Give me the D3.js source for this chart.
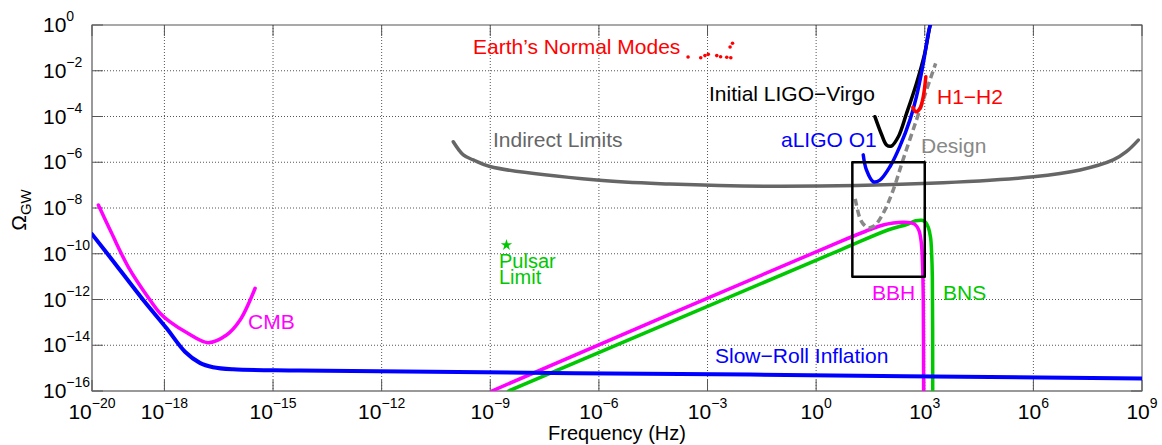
<!DOCTYPE html>
<html lang="en">
<head>
<meta charset="UTF-8">
<title>Stochastic GW background limits</title>
<script src="https://d3js.org/d3.v7.min.js"></script>
<style>
  body { margin: 0; background: #fff; }
  svg text { font-family: 'Liberation Sans', Arial, sans-serif; }
</style>
</head>
<body>
<svg id="chart" width="1162" height="445"></svg>
<script>
// ---- data (frequency in Hz, Omega_GW) ----
const xTicks = [1e-20, 1e-18, 1e-15, 1e-12, 1e-9, 1e-6, 1e-3, 1e0, 1e3, 1e6, 1e9];
const xTickExp = ["−20", "−18", "−15", "−12", "−9", "−6", "−3", "0", "3", "6", "9"];
const yTicks = [1e0, 1e-2, 1e-4, 1e-6, 1e-8, 1e-10, 1e-12, 1e-14, 1e-16];
const yTickExp = ["0", "−2", "−4", "−6", "−8", "−10", "−12", "−14", "−16"];

const slowRollFreq  = [1e-20, 3.2e-20, 2.6e-19, 1.15e-18, 3.7e-18, 9.5e-18, 2.2e-17, 7.8e-17, 5.5e-15, 1.5e-2, 1e9];
const slowRollOmega = [7.2e-10, 6.9e-11, 9.5e-13, 5.5e-14, 5.2e-15, 1.7e-15, 1.1e-15, 8.9e-16, 7.8e-16, 5.2e-16, 3.5e-16];

const cmbFreq  = [1.5e-20, 3.5e-20, 1e-19, 4e-19, 7.6e-19, 1.4e-18, 4.2e-18, 1.6e-17, 5.2e-17, 1.23e-16, 3.2e-16];
const cmbOmega = [1.35e-8, 7.8e-10, 2.7e-11, 9.5e-13, 2.5e-13, 1.07e-13, 3.5e-14, 1.3e-14, 2.8e-14, 1.26e-13, 3.1e-12];

const indirectFreq  = [9.5e-11, 1.8e-10, 3.4e-10, 9.8e-10, 8.7e-7, 9.1e-5, 0.1, 1380, 1e6, 1.95e7, 1.6e8, 3.7e8, 7.9e8];
const indirectOmega = [7.9e-6, 2.1e-6, 1.26e-6, 6.5e-7, 1.66e-7, 1.12e-7, 8.9e-8, 1.2e-7, 2.3e-7, 4.6e-7, 1.26e-6, 2.9e-6, 9.3e-6];

const bbhFreq  = [1.1e-9, 4.6, 38, 71, 135, 250, 400, 540, 690, 800, 870, 910, 930];
const bbhOmega = [1e-16, 3.4e-10, 1.3e-9, 1.8e-9, 2.2e-9, 2.4e-9, 2.3e-9, 1.9e-9, 1.05e-9, 3.2e-10, 3.2e-11, 1e-12, 1e-16];

const bnsFreq  = [3.2e-9, 4.6, 100, 316, 560, 830, 1050, 1260, 1450, 1550, 1620, 1660];
const bnsOmega = [1e-16, 1.45e-10, 1.12e-9, 1.9e-9, 2.75e-9, 2.9e-9, 2.4e-9, 1.4e-9, 5e-10, 1e-10, 1e-11, 1e-16];

const initialFreq  = [42, 65, 89, 120, 186, 316, 590, 1000, 1380, 1480];
const initialOmega = [9.8e-5, 1.55e-5, 5.6e-6, 5.1e-6, 1.3e-5, 1.4e-4, 2.8e-3, 5.8e-2, 0.85, 1.26];

const o1Freq  = [20, 24.5, 38, 57.5, 110, 204, 390, 590, 910, 1380, 1600];
const o1Omega = [2.1e-6, 4.6e-7, 1.4e-7, 1.66e-7, 6.5e-7, 4.8e-6, 7.1e-5, 7.4e-4, 2.1e-2, 0.85, 1.4];

const designFreq  = [12, 15.8, 20, 27.5, 38, 47, 79, 135, 250, 590, 1120, 2000];
const designOmega = [2.5e-8, 4e-9, 2e-9, 1.38e-9, 1.58e-9, 2.1e-9, 8.1e-9, 6.2e-8, 1.26e-6, 7.1e-5, 1.45e-3, 2.1e-2];

const h1h2Freq  = [1070, 910, 740, 575, 470];
const h1h2Omega = [5.5e-3, 7.4e-4, 2.3e-4, 1.6e-4, 2.5e-4];

const earthFreq  = [2.9e-4, 6.5e-4, 8.5e-4, 1.05e-3, 1.8e-3, 2.3e-3, 3.4e-3, 4.4e-3, 4.2e-3, 4.9e-3];
const earthOmega = [4e-2, 3.7e-2, 4.6e-2, 5.2e-2, 4.6e-2, 4.1e-2, 3.9e-2, 3.7e-2, 0.11, 0.16];

const pulsarFreq = 2.8e-9, pulsarOmega = 2.4e-10;

const boxFreq  = [10, 1000];
const boxOmega = [1e-11, 1e-6];

// ---- layout ----
const svg = d3.select("#chart");
const width = 1162, height = 445;
const margin = { top: 25, right: 20, bottom: 54, left: 92 };
const x0 = margin.left, x1 = width - margin.right;
const y0 = margin.top, y1 = height - margin.bottom;

const x = d3.scaleLog().domain([1e-20, 1e9]).range([x0, x1]);
const y = d3.scaleLog().domain([1e-16, 1]).range([y1, y0]);

svg.append("defs").append("clipPath").attr("id", "plot-clip")
  .append("rect").attr("x", x0).attr("y", y0).attr("width", x1 - x0).attr("height", y1 - y0);

// grid (dotted)
const grid = svg.append("g").attr("stroke", "#555").attr("stroke-width", 1).attr("stroke-dasharray", "1,2");
xTicks.slice(1, -1).forEach(t => {
  grid.append("line").attr("x1", x(t)).attr("x2", x(t)).attr("y1", y0).attr("y2", y1);
});
yTicks.slice(1, -1).forEach(t => {
  grid.append("line").attr("x1", x0).attr("x2", x1).attr("y1", y(t)).attr("y2", y(t));
});

// frame + inward ticks
const tickLen = 11;
const frame = svg.append("g").attr("stroke", "#555").attr("stroke-width", 1);
frame.append("rect").attr("x", x0).attr("y", y0).attr("width", x1 - x0).attr("height", y1 - y0)
  .attr("fill", "none");
frame.append("line").attr("x1", x0).attr("x2", x0).attr("y1", y0).attr("y2", y1)
  .attr("stroke", "#999").attr("stroke-width", 2);
frame.append("line").attr("x1", x0).attr("x2", x1).attr("y1", y1).attr("y2", y1)
  .attr("stroke", "#999").attr("stroke-width", 2);
xTicks.forEach(t => {
  frame.append("line").attr("x1", x(t)).attr("x2", x(t)).attr("y1", y1).attr("y2", y1 - tickLen);
  frame.append("line").attr("x1", x(t)).attr("x2", x(t)).attr("y1", y0).attr("y2", y0 + tickLen);
});
yTicks.forEach(t => {
  frame.append("line").attr("x1", x0).attr("x2", x0 + tickLen).attr("y1", y(t)).attr("y2", y(t));
  frame.append("line").attr("x1", x1).attr("x2", x1 - tickLen).attr("y1", y(t)).attr("y2", y(t));
});

// tick labels with superscripts
xTicks.forEach((t, i) => {
  const tx = svg.append("text").attr("x", x(t)).attr("y", y1 + 28)
    .attr("text-anchor", "middle").attr("font-size", 21).attr("fill", "#000");
  tx.append("tspan").text("10");
  tx.append("tspan").attr("dy", -11).attr("font-size", 14).text(xTickExp[i]);
});
yTicks.forEach((t, i) => {
  const ty = svg.append("text").attr("x", 43).attr("y", y(t) + 7)
    .attr("font-size", 21).attr("fill", "#000");
  ty.append("tspan").text("10");
  ty.append("tspan").attr("dy", -11).attr("font-size", 14).text(yTickExp[i]);
});

// axis titles
svg.append("text").attr("x", 617).attr("y", 440).attr("text-anchor", "middle")
  .attr("font-size", 20).text("Frequency (Hz)");
const yl = svg.append("text").attr("transform", "translate(26,210) rotate(-90)")
  .attr("text-anchor", "middle").attr("font-size", 21);
yl.append("tspan").text("Ω");
yl.append("tspan").attr("dy", 5).attr("font-size", 15).text("GW");

// curves
const line = d3.line().x(d => x(d[0])).y(d => y(d[1])).curve(d3.curveCatmullRom.alpha(0.5));
const plot = svg.append("g").attr("clip-path", "url(#plot-clip)").attr("fill", "none")
  .attr("stroke-linejoin", "round").attr("stroke-linecap", "round");

function curve(fs, os, color, w, dash) {
  const p = plot.append("path").datum(d3.zip(fs, os)).attr("d", line)
    .attr("stroke", color).attr("stroke-width", w);
  if (dash) p.attr("stroke-dasharray", dash).attr("stroke-linecap", "butt");
}

curve(indirectFreq, indirectOmega, "#666666", 3.5);
curve(cmbFreq, cmbOmega, "#ff00ff", 3.5);
curve(bnsFreq, bnsOmega, "#00c800", 3.5);
curve(bbhFreq, bbhOmega, "#ff00ff", 3.5);
curve(designFreq, designOmega, "#888888", 3.5, "7,4");
curve(initialFreq, initialOmega, "#000000", 3.5);
curve(o1Freq, o1Omega, "#0000ff", 3.5);
curve(h1h2Freq, h1h2Omega, "#ff0000", 3.5);
curve(slowRollFreq, slowRollOmega, "#0000ff", 4);

// box of the LIGO band
plot.append("rect")
  .attr("x", x(boxFreq[0])).attr("y", y(boxOmega[1]))
  .attr("width", x(boxFreq[1]) - x(boxFreq[0])).attr("height", y(boxOmega[0]) - y(boxOmega[1]))
  .attr("stroke", "#000").attr("stroke-width", 2.5).attr("fill", "none");

// Earth's normal modes (scattered short marks)
plot.selectAll(".earth").data(d3.zip(earthFreq, earthOmega)).enter().append("circle")
  .attr("cx", d => x(d[0])).attr("cy", d => y(d[1])).attr("r", 1.8)
  .attr("fill", "#ff0000").attr("stroke", "none");

// pulsar limit star
svg.append("path").attr("d", d3.symbol(d3.symbolStar, 40)())
  .attr("transform", `translate(${x(pulsarFreq)},${y(pulsarOmega)})`).attr("fill", "#00c800");

// labels
const labels = [
  { t: "Earth’s Normal Modes", px: 473, py: 54, c: "#ff0000", s: 21 },
  { t: "Initial LIGO−Virgo", px: 709, py: 101, c: "#000000", s: 21 },
  { t: "H1−H2", px: 937, py: 104, c: "#ff0000", s: 21 },
  { t: "aLIGO O1", px: 781, py: 147, c: "#0000ff", s: 21 },
  { t: "Design", px: 921, py: 153, c: "#888888", s: 21 },
  { t: "Indirect Limits", px: 493, py: 147, c: "#666666", s: 21 },
  { t: "Pulsar", px: 499, py: 268, c: "#00c800", s: 20 },
  { t: "Limit", px: 499, py: 284, c: "#00c800", s: 20 },
  { t: "CMB", px: 248, py: 329, c: "#ff00ff", s: 21 },
  { t: "BBH", px: 872, py: 300, c: "#ff00ff", s: 21 },
  { t: "BNS", px: 943, py: 300, c: "#00c800", s: 21 },
  { t: "Slow−Roll Inflation", px: 715, py: 363, c: "#0000ff", s: 21 }
];
svg.selectAll(".lbl").data(labels).enter().append("text")
  .attr("x", d => d.px).attr("y", d => d.py).attr("font-size", d => d.s)
  .attr("fill", d => d.c).text(d => d.t);
</script>
</body>
</html>
